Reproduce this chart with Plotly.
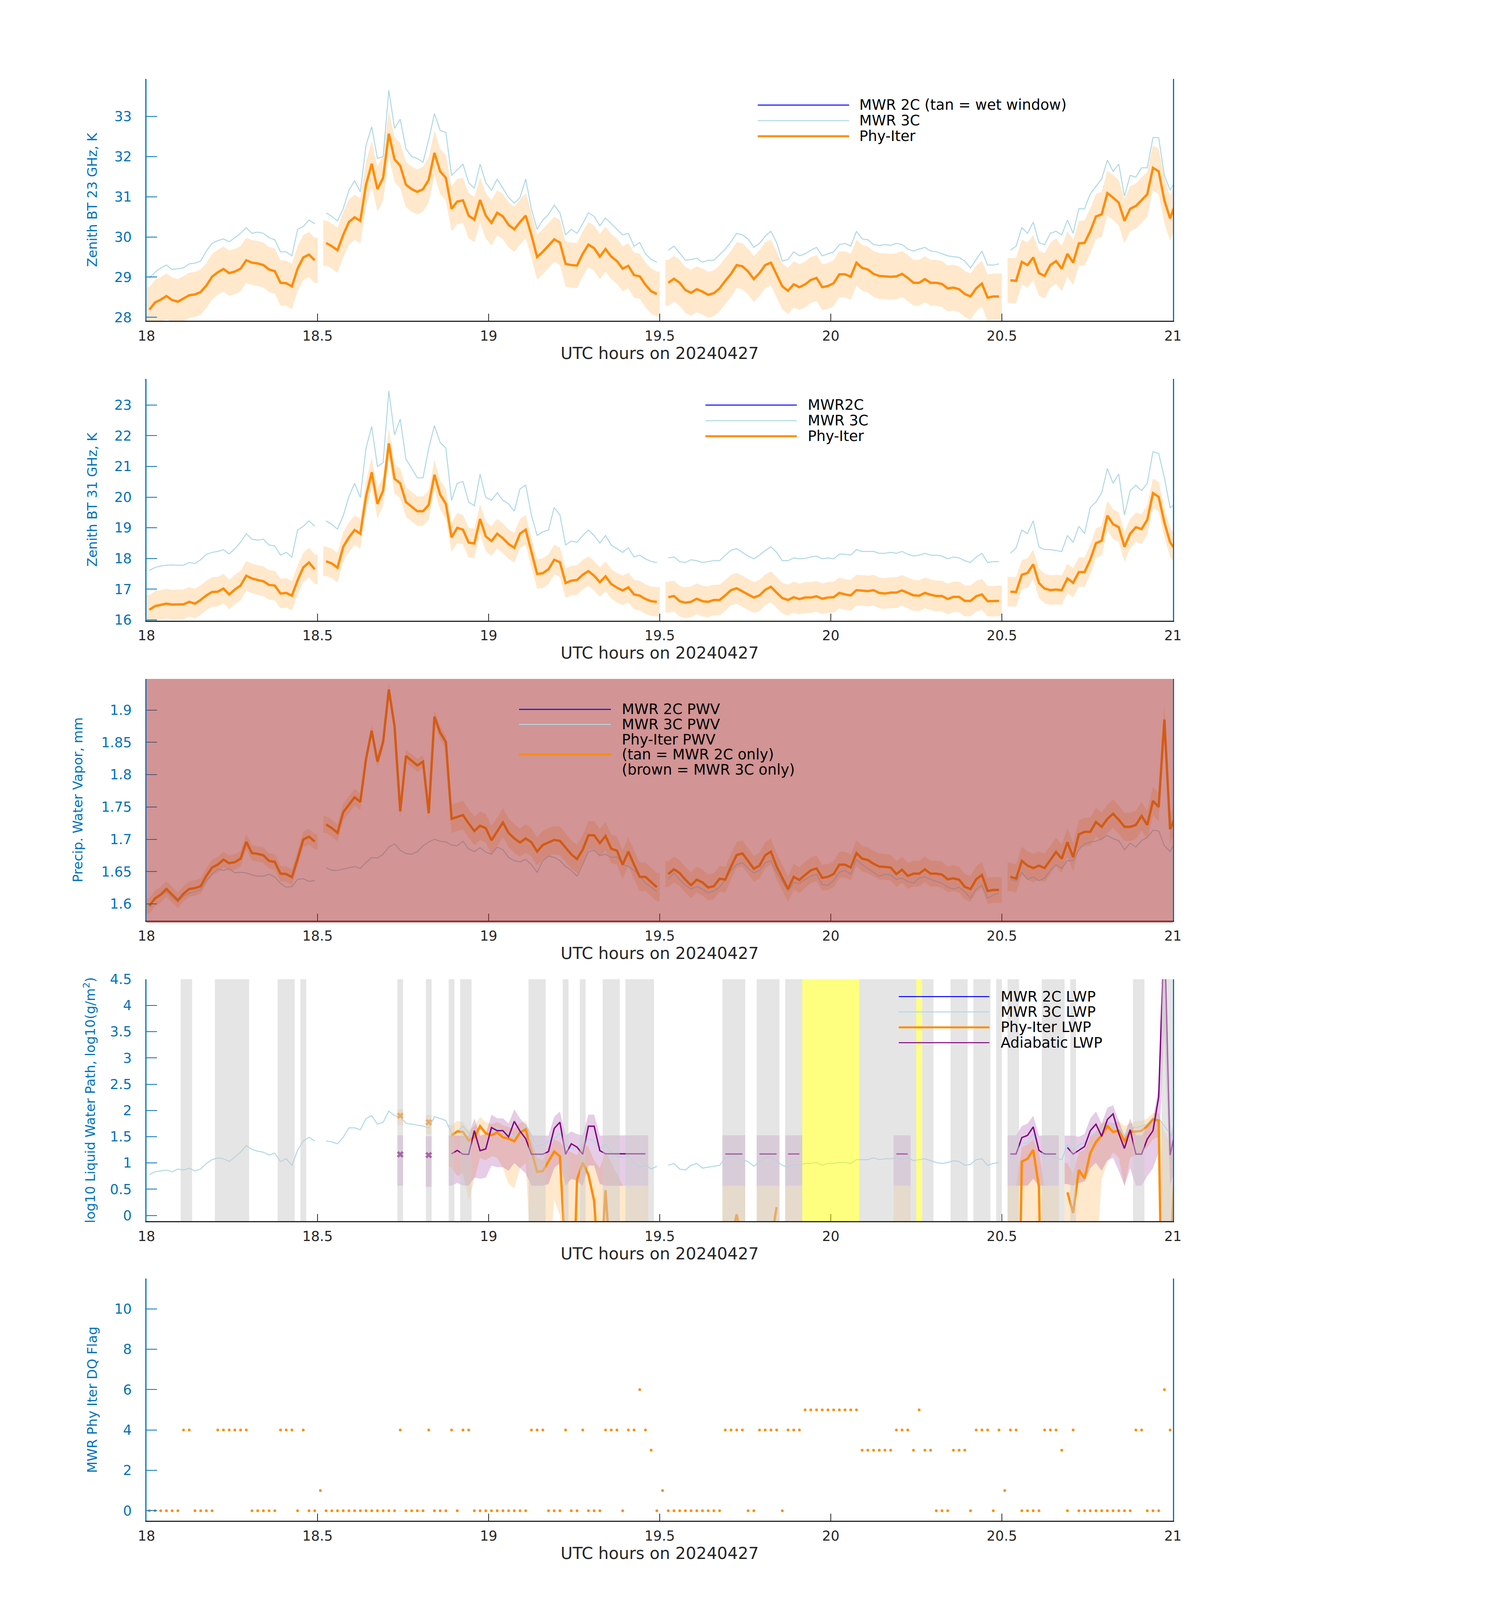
import plotly.graph_objects as go

FONT = "DejaVu Sans"
BLUE_AX = "#0072BD"
DARK = "#262626"
ORANGE = "#FF8C00"
LBLUE = "#ADD8E6"
PURPLE = "#800080"

# ---------------- time axis: one value per minute (minute-centred) ----------------
minute = list(range(181))
utc_hours = [18 + (m + 0.5) / 60 for m in minute]
N = None

# ---------------- Panel 1: zenith BT 23 GHz (K) ----------------
bt23_phy = [28.19, 28.37, 28.44, 28.53, 28.43, 28.39, 28.47, 28.55, 28.57, 28.63,
            28.79, 29.01, 29.12, 29.20, 29.10, 29.14, 29.21, 29.42, 29.36, 29.34,
            29.30, 29.19, 29.15, 28.86, 28.85, 28.77, 29.21, 29.49, 29.56, 29.42,
            N, 29.85, 29.77, 29.67, 30.05, 30.37, 30.49, 30.40, 31.30, 31.82,
            31.19, 31.47, 32.57, 31.93, 31.77, 31.30, 31.19, 31.12, 31.19, 31.42,
            32.09, 31.63, 31.47, 30.70, 30.88, 30.91, 30.53, 30.43, 30.92, 30.53,
            30.35, 30.60, 30.51, 30.30, 30.19, 30.37, 30.53, 30.05, 29.50, 29.63,
            29.79, 29.94, 29.86, 29.33, 29.30, 29.29, 29.58, 29.81, 29.72, 29.51,
            29.70, 29.51, 29.40, 29.21, 29.28, 29.05, 29.02, 28.81, 28.65, 28.58,
            N, 28.86, 28.96, 28.86, 28.68, 28.61, 28.70, 28.64, 28.56, 28.60,
            28.72, 28.91, 29.08, 29.30, 29.27, 29.14, 28.95, 29.10, 29.30, 29.36,
            29.07, 28.77, 28.66, 28.82, 28.75, 28.82, 28.93, 28.98, 28.75, 28.78,
            28.85, 29.07, 29.07, 29.01, 29.36, 29.23, 29.19, 29.08, 29.03, 29.02,
            29.01, 29.02, 29.08, 28.98, 28.86, 28.86, 28.95, 28.86, 28.86, 28.83,
            28.72, 28.74, 28.70, 28.58, 28.52, 28.72, 28.84, 28.49, 28.52, 28.52,
            N, 28.92, 28.91, 29.38, 29.30, 29.49, 29.10, 29.03, 29.30, 29.40,
            29.21, 29.58, 29.36, 29.84, 29.85, 30.14, 30.51, 30.56, 31.09, 30.98,
            30.85, 30.40, 30.70, 30.77, 30.92, 31.06, 31.72, 31.63, 30.91, 30.46,
            30.85]
bt23_unc = ([0.56] * 30 + [N] + [0.56] * 59 + [N] + [0.57] * 59 + [N] + [0.56] * 30)
bt23_3c = [28.98, 29.12, 29.23, 29.30, 29.19, 29.21, 29.23, 29.33, 29.35, 29.40,
           29.65, 29.84, 29.91, 29.95, 29.88, 29.98, 30.09, 30.23, 30.09, 30.12,
           30.09, 29.98, 29.93, 29.63, 29.63, 29.53, 30.19, 30.26, 30.42, 30.33,
           N, 30.60, 30.51, 30.40, 30.70, 31.16, 31.40, 31.12, 32.28, 32.74,
           31.95, 32.00, 33.65, 32.70, 32.93, 32.19, 32.00, 31.95, 31.86, 32.42,
           33.07, 32.65, 32.60, 31.53, 31.67, 31.81, 31.35, 31.21, 31.81, 31.35,
           31.16, 31.44, 31.21, 30.98, 30.84, 30.98, 31.44, 30.70, 30.19, 30.42,
           30.56, 30.79, 30.60, 30.05, 30.19, 30.09, 30.33, 30.60, 30.51, 30.28,
           30.47, 30.33, 30.19, 30.05, 30.09, 29.77, 29.86, 29.58, 29.44, 29.37,
           N, 29.67, 29.77, 29.60, 29.42, 29.44, 29.47, 29.37, 29.42, 29.42,
           29.56, 29.70, 29.88, 30.09, 30.05, 29.95, 29.74, 29.84, 30.02, 30.14,
           29.86, 29.40, 29.44, 29.63, 29.53, 29.58, 29.67, 29.74, 29.53, 29.58,
           29.63, 29.81, 29.84, 29.77, 30.14, 29.95, 29.93, 29.81, 29.79, 29.81,
           29.79, 29.84, 29.81, 29.70, 29.65, 29.70, 29.74, 29.65, 29.63, 29.58,
           29.53, 29.51, 29.49, 29.40, 29.23, 29.44, 29.65, 29.30, 29.30, 29.33,
           N, 29.67, 29.77, 30.23, 30.09, 30.37, 29.86, 29.81, 30.09, 30.14,
           30.05, 30.42, 30.09, 30.70, 30.70, 31.07, 31.26, 31.44, 31.91, 31.63,
           31.81, 31.02, 31.53, 31.49, 31.72, 31.72, 32.47, 32.47, 31.53, 31.16,
           31.40]

# ---------------- Panel 2: zenith BT 31 GHz (K) ----------------
bt31_phy = [16.33, 16.45, 16.49, 16.53, 16.50, 16.51, 16.51, 16.59, 16.53, 16.65,
            16.80, 16.91, 16.92, 17.02, 16.83, 16.99, 17.12, 17.44, 17.35, 17.30,
            17.26, 17.14, 17.12, 16.86, 16.88, 16.79, 17.29, 17.71, 17.87, 17.65,
            N, 17.91, 17.84, 17.70, 18.38, 18.69, 18.93, 18.81, 20.02, 20.81,
            19.78, 20.21, 21.75, 20.60, 20.45, 19.84, 19.69, 19.54, 19.54, 19.75,
            20.73, 20.08, 19.78, 18.69, 19.00, 18.94, 18.52, 18.49, 19.29, 18.72,
            18.57, 18.81, 18.66, 18.47, 18.35, 18.81, 18.94, 18.20, 17.50, 17.52,
            17.65, 17.96, 17.88, 17.20, 17.28, 17.30, 17.47, 17.59, 17.44, 17.23,
            17.42, 17.17, 17.05, 16.96, 17.06, 16.83, 16.79, 16.68, 16.61, 16.59,
            N, 16.74, 16.78, 16.61, 16.56, 16.59, 16.69, 16.61, 16.59, 16.65,
            16.65, 16.80, 16.97, 17.03, 16.94, 16.83, 16.73, 16.80, 16.98, 17.08,
            16.89, 16.71, 16.65, 16.74, 16.68, 16.73, 16.73, 16.77, 16.69, 16.73,
            16.74, 16.88, 16.83, 16.80, 16.97, 16.96, 16.94, 16.97, 16.88, 16.86,
            16.89, 16.89, 16.96, 16.88, 16.80, 16.79, 16.88, 16.82, 16.78, 16.78,
            16.68, 16.75, 16.75, 16.62, 16.62, 16.77, 16.83, 16.61, 16.61, 16.62,
            N, 16.92, 16.91, 17.47, 17.53, 17.81, 17.20, 17.02, 16.97, 16.99,
            16.97, 17.35, 17.21, 17.56, 17.56, 17.96, 18.50, 18.58, 19.40, 19.12,
            19.02, 18.38, 18.81, 19.02, 18.96, 19.26, 20.13, 20.01, 19.17, 18.53,
            18.26]
bt31_unc = ([0.48] * 30 + [N] + [0.48] * 59 + [N] + [0.50] * 59 + [N] + [0.48] * 30)
bt31_3c = [17.61, 17.71, 17.76, 17.78, 17.79, 17.78, 17.78, 17.87, 17.84, 17.96,
           18.14, 18.20, 18.23, 18.29, 18.15, 18.32, 18.53, 18.81, 18.63, 18.60,
           18.63, 18.44, 18.41, 18.11, 18.20, 18.05, 18.93, 19.05, 19.23, 19.05,
           N, 19.23, 19.11, 18.96, 19.39, 20.02, 20.45, 19.99, 21.60, 22.30,
           21.00, 21.12, 23.46, 22.03, 22.54, 21.24, 20.93, 20.63, 20.63, 21.60,
           22.33, 21.78, 21.60, 19.90, 20.45, 20.51, 19.84, 19.72, 20.75, 19.99,
           19.90, 20.14, 19.90, 19.78, 19.54, 20.27, 20.39, 19.42, 18.75, 18.87,
           18.93, 19.66, 19.42, 18.44, 18.57, 18.53, 18.75, 18.93, 18.75, 18.50,
           18.75, 18.44, 18.32, 18.20, 18.35, 18.05, 18.11, 17.99, 17.90, 17.87,
           N, 18.02, 18.05, 17.90, 17.87, 17.96, 17.93, 17.87, 17.90, 17.93,
           17.93, 18.11, 18.27, 18.32, 18.20, 18.08, 17.99, 18.11, 18.26, 18.38,
           18.20, 17.93, 17.93, 18.02, 17.99, 18.00, 18.05, 18.08, 17.99, 18.02,
           17.99, 18.14, 18.14, 18.11, 18.29, 18.23, 18.23, 18.23, 18.17, 18.17,
           18.20, 18.17, 18.23, 18.14, 18.08, 18.11, 18.17, 18.11, 18.11, 18.08,
           17.99, 18.05, 18.02, 17.93, 17.87, 18.05, 18.17, 17.87, 17.90, 17.90,
           N, 18.17, 18.35, 18.93, 18.81, 19.23, 18.38, 18.29, 18.29, 18.26,
           18.23, 18.75, 18.53, 19.05, 18.81, 19.66, 19.84, 20.14, 20.93, 20.45,
           20.75, 19.42, 20.21, 20.39, 20.21, 20.45, 21.48, 21.42, 20.63, 19.66,
           19.78]

# ---------------- Panel 3: precipitable water vapour (mm) ----------------
pwv_phy = [1.597, 1.6087, 1.6145, 1.6232, 1.6145, 1.6058, 1.6159, 1.6232, 1.6246, 1.6275,
           1.6434, 1.6564, 1.6608, 1.6686, 1.6631, 1.6646, 1.6701, 1.6961, 1.6787, 1.6776,
           1.6753, 1.6666, 1.6651, 1.6469, 1.6463, 1.6414, 1.6695, 1.6999, 1.7042, 1.6964,
           N, 1.723, 1.7173, 1.7100, 1.7419, 1.7535, 1.765, 1.7578, 1.8244, 1.8679,
           1.8201, 1.8505, 1.9316, 1.8751, 1.7433, 1.8288, 1.8215, 1.8143, 1.8201, 1.7404,
           1.8896, 1.865, 1.8505, 1.7317, 1.7346, 1.7375, 1.7245, 1.7129, 1.721, 1.7173,
           1.6984, 1.7115, 1.726, 1.71, 1.7013, 1.695, 1.7013, 1.6955, 1.6811, 1.6912,
           1.6955, 1.699, 1.6976, 1.6869, 1.6767, 1.6695, 1.684, 1.7063, 1.7063, 1.6941,
           1.7051, 1.6854, 1.6825, 1.6608, 1.6811, 1.6608, 1.642, 1.642, 1.6341, 1.626,
           N, 1.6463, 1.6536, 1.6478, 1.6376, 1.6289, 1.6376, 1.6333, 1.6255, 1.6275,
           1.6391, 1.6376, 1.6579, 1.6758, 1.6782, 1.6666, 1.6544, 1.6593, 1.6753, 1.6811,
           1.6579, 1.6405, 1.6231, 1.642, 1.637, 1.6449, 1.6521, 1.655, 1.6405, 1.642,
           1.6463, 1.6608, 1.6608, 1.6564, 1.6787, 1.6701, 1.668, 1.6622, 1.6579, 1.6573,
           1.6564, 1.6463, 1.653, 1.6434, 1.6469, 1.6469, 1.6536, 1.6469, 1.6469, 1.6454,
           1.6382, 1.6397, 1.6376, 1.6266, 1.6231, 1.6382, 1.6449, 1.6202, 1.6217, 1.6217,
           N, 1.642, 1.6391, 1.6666, 1.6593, 1.6556, 1.6593, 1.6556, 1.668, 1.6805,
           1.6701, 1.6955, 1.6724, 1.7077, 1.7115, 1.7115, 1.7268, 1.7193, 1.7317, 1.7396,
           1.7303, 1.7193, 1.7193, 1.7222, 1.7361, 1.7222, 1.7593, 1.75, 1.8852, 1.7158,
           1.7361]
pwv_unc = ([0.012] * 30 + [N] + [0.013] * 7 + [0.010] * 15 + [0.022] * 37 + [N]
           + [0.020] * 59 + [N] + [0.022] * 30)
pwv_3c = [1.597, 1.607, 1.613, 1.619, 1.610, 1.603, 1.612, 1.617, 1.619, 1.622,
          1.636, 1.646, 1.654, 1.652, 1.655, 1.648, 1.649, 1.648, 1.645, 1.643,
          1.643, 1.646, 1.642, 1.632, 1.626, 1.627, 1.638, 1.639, 1.635, 1.636,
          N, 1.656, 1.652, 1.652, 1.654, 1.656, 1.658, 1.655, 1.664, 1.672,
          1.671, 1.677, 1.688, 1.693, 1.683, 1.678, 1.677, 1.681, 1.690, 1.696,
          1.700, 1.697, 1.696, 1.691, 1.690, 1.697, 1.685, 1.681, 1.687, 1.680,
          1.677, 1.688, 1.684, 1.672, 1.667, 1.665, 1.669, 1.661, 1.649, 1.667,
          1.674, 1.672, 1.667, 1.658, 1.652, 1.643, 1.661, 1.681, 1.683, 1.675,
          1.677, 1.672, 1.673, 1.661, 1.658, 1.652, 1.643, 1.632, 1.626, 1.619,
          N, 1.638, 1.648, 1.638, 1.629, 1.623, 1.627, 1.623, 1.617, 1.620,
          1.626, 1.638, 1.652, 1.661, 1.664, 1.655, 1.648, 1.652, 1.664, 1.667,
          1.649, 1.635, 1.620, 1.633, 1.632, 1.638, 1.643, 1.646, 1.630, 1.629,
          1.636, 1.649, 1.652, 1.646, 1.669, 1.661, 1.655, 1.649, 1.643, 1.646,
          1.645, 1.638, 1.640, 1.635, 1.632, 1.640, 1.642, 1.638, 1.635, 1.632,
          1.626, 1.623, 1.626, 1.619, 1.609, 1.623, 1.629, 1.609, 1.614, 1.617,
          N, 1.638, 1.635, 1.649, 1.638, 1.642, 1.636, 1.640, 1.652, 1.661,
          1.655, 1.667, 1.667, 1.684, 1.693, 1.696, 1.697, 1.701, 1.706, 1.701,
          1.698, 1.684, 1.694, 1.688, 1.698, 1.703, 1.714, 1.713, 1.690, 1.681,
          1.698]

# ---------------- Panel 4: log10 liquid water path ----------------
lwp_3c = [0.777, 0.831, 0.848, 0.866, 0.831, 0.884, 0.866, 0.902, 0.848, 0.884,
          0.991, 1.062, 1.098, 1.080, 1.027, 1.116, 1.205, 1.329, 1.258, 1.223,
          1.205, 1.151, 1.187, 1.027, 1.080, 0.955, 1.240, 1.419, 1.490, 1.419,
          N, 1.419, 1.401, 1.365, 1.490, 1.668, 1.668, 1.632, 1.846, 1.900,
          1.739, 1.775, 1.988, 1.900, 1.882, 1.757, 1.739, 1.721, 1.703, 1.668,
          1.882, 1.846, 1.810, 1.561, 1.597, 1.703, 1.561, 1.525, 1.668, 1.561,
          1.525, 1.686, 1.597, 1.561, 1.490, 1.597, 1.739, 1.525, 1.312, 1.347,
          1.419, 1.454, 1.561, 1.347, 1.276, 1.294, 1.383, 1.454, 1.419, 1.276,
          1.347, 1.205, 1.134, 1.098, 1.134, 0.991, 0.920, 0.955, 0.884, 0.937,
          N, 0.955, 0.991, 0.884, 0.866, 0.955, 0.991, 0.902, 0.920, 0.937,
          0.955, 1.098, 1.134, 1.116, 1.062, 1.027, 0.937, 1.027, 1.098, 1.116,
          1.027, 0.955, 0.920, 0.973, 0.955, 0.991, 0.991, 1.009, 0.955, 0.991,
          0.991, 1.009, 1.009, 0.991, 1.062, 1.062, 1.062, 1.098, 1.062, 1.080,
          1.080, 1.098, 1.062, 1.098, 1.044, 1.062, 1.080, 1.044, 1.009, 0.991,
          1.009, 1.044, 1.027, 0.955, 0.973, 1.062, 1.080, 0.955, 0.991, 1.009,
          N, 1.098, 1.169, 1.383, 1.383, 1.561, 1.240, 1.098, 1.134, 1.098,
          1.062, 1.347, 1.240, 1.347, 1.383, 1.525, 1.561, 1.632, 1.810, 1.703,
          1.668, 1.525, 1.703, 1.668, 1.703, 1.739, 1.864, 1.846, 1.703, 1.561,
          1.490]

lwp_phy = ([N] * 44 + [1.899] + [N] * 4 + [1.775] + [N] * 3
           + [1.522, 1.601, 1.590, 1.429, 1.488, 1.700, 1.564,
              1.530, 1.581, 1.488, 1.463, 1.412, 1.581, 1.640, 1.24, 0.83, 0.845,
              1.022, 1.217, 1.124, -0.7, -2.8, 0.684, 1.006, 0.777, 0.278, -1.3,
              0.481, -1.15]
           + [N] * 20 + [-0.45, 0.02, -0.5] + [N] * 4 + [-0.52, 0.159]
           + [N] * 41 + [-5.0, 1.027, 1.080, 1.247, 0.546, -5.0] + [N] * 3
           + [0.439, 0.047, 0.866, 0.706, 1.187, 1.401, 1.525, 1.703, 1.589,
              1.614, 1.418, 1.596, 1.596, 1.614, 1.703, 1.828, 1.810, -5.0, -1.0,
              1.347])
lwp_phy_lo = ([N] * 44 + [1.72] + [N] * 4 + [1.55] + [N] * 3
              + [0.92, 0.75, 0.80, 0.28, 0.70, 1.10, 1.05,
                 1.13, 1.10, 0.90, 0.60, 0.52, 0.90, 1.00, -1, -1, -1,
                 -1, 0.30, 0.0, -1, -1, -1, -1, -1, -1, -1,
                 -1, -1, -1, -1, -1, -1, -1, -1]
              + [N] * 13 + [-1] * 4 + [N] * 2 + [-1] * 4 + [N] + [-1] * 3
              + [N] * 16 + [-1] * 3 + [N] * 17
              + [-1] * 9 + [N]
              + [-1, -1, -1, -1, -1, -1, 0.7, 1.0, 1.2, 1.1, 0.55, 1.1, 1.15, 1.2,
                 1.3, 1.45, 1.5, -1, -1, 1.0])
lwp_phy_hi = ([N] * 44 + [2.02] + [N] * 4 + [1.91] + [N] * 3
              + [1.72, 1.80, 1.78, 1.62, 1.70, 1.88, 1.78,
                 1.74, 1.78, 1.72, 1.68, 1.65, 1.76, 1.80, 1.45, 1.10, 1.05,
                 1.30, 1.45, 1.40, 1.25, 1.20, 1.15, 1.38, 1.30, 1.05, 0.90,
                 1.20, 1.00, 0.80, 0.565, 0.565, 0.565, 0.565, 0.565]
              + [N] * 13 + [0.565] * 4 + [N] * 2 + [0.565] * 4 + [N] + [0.565] * 3
              + [N] * 16 + [0.565] * 3 + [N] * 17
              + [0.565, 0.565, 1.30, 1.35, 1.45, 1.20, 0.565, 0.565, 0.565] + [N]
              + [1.0, 0.8, 1.2, 1.25, 1.5, 1.6, 1.75, 1.8, 1.75, 1.8, 1.7, 1.75, 1.8,
                 1.8, 1.85, 1.95, 1.95, 1.6, 1.4, 1.5])

lwp_adia = ([N] * 44 + [1.163] + [N] * 4 + [1.149] + [N] * 3
            + [1.175, 1.239, 1.166, 1.163, 1.615, 1.234, 1.268,
               1.674, 1.615, 1.615, 1.497, 1.793, 1.606, 1.463, 1.166, 1.166, 1.166,
               1.217, 1.657, 1.776, 1.166, 1.365, 1.302, 1.166, 1.700, 1.700, 1.234,
               1.175, 1.175, 1.175, 1.175, 1.175, 1.175, 1.175, 1.175]
            + [N] * 13 + [1.171] * 4 + [N] * 2 + [1.171] * 4 + [N] + [1.171] * 3
            + [N] * 16 + [1.171] * 3 + [N] * 17
            + [1.171, 1.171, 1.483, 1.525, 1.686, 1.240, 1.171, 1.171, 1.171] + [N]
            + [1.294, 1.169, 1.24, 1.312, 1.614, 1.739, 1.507, 1.828, 1.935,
               1.561, 1.276, 1.632, 1.169, 1.169, 1.454, 1.614, 2.256, 5.5, 1.151,
               1.650])
lwp_adia_lo = ([N] * 44 + [0.565] + [N] * 4 + [0.545] + [N] * 3
               + [0.565, 0.62, 0.57, 0.57, 0.72, 0.70, 0.72,
                  0.95, 0.92, 0.92, 0.85, 1.00, 0.90, 0.80, 0.565, 0.565, 0.565,
                  0.60, 0.90, 1.00, 0.565, 0.70, 0.66, 0.565, 0.95, 0.95, 0.60,
                  0.565, 0.565, 0.565, 0.565, 0.565, 0.565, 0.565, 0.565]
               + [N] * 13 + [0.565] * 4 + [N] * 2 + [0.565] * 4 + [N] + [0.565] * 3
               + [N] * 16 + [0.565] * 3 + [N] * 17
               + [0.565, 0.565, 0.565, 0.565, 0.70, 0.565, 0.565, 0.565, 0.565] + [N]
               + [0.60, 0.565, 0.62, 0.65, 0.90, 1.00, 0.85, 1.05, 1.10,
                  0.85, 0.565, 0.90, 0.565, 0.565, 0.75, 0.90, 1.20, 3.5, 0.565,
                  0.95])
lwp_adia_hi = ([N] * 44 + [1.525] + [N] * 4 + [1.51] + [N] * 3
               + [1.525, 1.52, 1.52, 1.52, 1.85, 1.52, 1.55,
                  1.92, 1.85, 1.85, 1.75, 2.02, 1.85, 1.72, 1.525, 1.525, 1.525,
                  1.52, 1.88, 1.98, 1.525, 1.60, 1.55, 1.525, 1.92, 1.92, 1.52,
                  1.525, 1.525, 1.525, 1.525, 1.525, 1.525, 1.525, 1.525]
               + [N] * 13 + [1.525] * 4 + [N] * 2 + [1.525] * 4 + [N] + [1.525] * 3
               + [N] * 16 + [1.525] * 3 + [N] * 17
               + [1.525, 1.525, 1.70, 1.75, 1.90, 1.52, 1.525, 1.525, 1.525] + [N]
               + [1.52, 1.52, 1.50, 1.55, 1.85, 1.98, 1.75, 2.05, 2.10,
                  1.80, 1.52, 1.85, 1.525, 1.525, 1.70, 1.85, 2.45, 6.0, 1.525,
                  1.90])

# ---------------- Panel 5: MWR Phy-Iter data-quality flag ----------------
dq_flag = ([0] * 6 + [4] * 2 + [0] * 4 + [4] * 6 + [0] * 5 + [4] * 3 + [0] + [4] + [0] * 2 + [1]
           + [0] * 13 + [4] + [0] * 4 + [4] + [0] * 3 + [4] + [0] + [4] * 2 + [0] * 10
           + [4] * 3 + [0] * 3 + [4] + [0] * 2 + [4] + [0] * 3 + [4] * 3 + [0]
           + [4, 4, 6, 4, 3, 0, 1] + [0] * 10 + [4] * 4 + [0] * 2 + [4] * 4 + [0] + [4] * 3
           + [5] * 10 + [3] * 6 + [4] * 3 + [3] + [5] + [3] * 2 + [0] * 3 + [3] * 3 + [0]
           + [4] * 3 + [0] + [4] + [1] + [4] * 2 + [0] * 4 + [4] * 3 + [3] + [0] + [4]
           + [0] * 10 + [4] * 2 + [0] * 3 + [6] + [4] + [0])
GRAY_FLAGS = (3, 4, 6)
YELLOW_FLAGS = (5,)

# ---------------- legend entries (text, colour, line width) per panel ----------------
legend_p1 = [("MWR 2C (tan = wet window)", "blue", 2.5), ("MWR 3C", LBLUE, 2.5),
             ("Phy-Iter", ORANGE, 5)]
legend_p2 = [("MWR2C", "blue", 2.5), ("MWR 3C", LBLUE, 2.5), ("Phy-Iter", ORANGE, 5)]
legend_p3 = [("MWR 2C PWV", "blue", 2.5), ("MWR 3C PWV", LBLUE, 2.5),
             ("Phy-Iter PWV", None, 0), ("(tan = MWR 2C only)", ORANGE, 5),
             ("(brown = MWR 3C only)", None, 0)]
legend_p4 = [("MWR 2C LWP", "blue", 2.5), ("MWR 3C LWP", LBLUE, 2.5),
             ("Phy-Iter LWP", ORANGE, 5), ("Adiabatic LWP", PURPLE, 2.5)]

# ---------------- helpers ----------------
HALF = 0.5 / 60


def segments(vals):
    segs, cur = [], []
    for i, v in enumerate(vals):
        if v is None:
            if cur:
                segs.append(cur)
            cur = []
        else:
            cur.append(i)
    if cur:
        segs.append(cur)
    return segs


def band_xy(lo, hi):
    xs, ys = [], []
    for seg in segments(hi):
        xa = [utc_hours[seg[0]] - HALF] + [utc_hours[i] for i in seg] + [utc_hours[seg[-1]] + HALF]
        up = [hi[seg[0]]] + [hi[i] for i in seg] + [hi[seg[-1]]]
        dn = [lo[seg[0]]] + [lo[i] for i in seg] + [lo[seg[-1]]]
        xs += xa + xa[::-1] + [None]
        ys += up + dn[::-1] + [None]
    return xs, ys


def pm(vals, unc, sign):
    return [None if (v is None or u is None) else v + sign * u for v, u in zip(vals, unc)]


def isolated(vals):
    out = []
    for i, v in enumerate(vals):
        if v is None:
            continue
        left = vals[i - 1] if i > 0 else None
        right = vals[i + 1] if i < len(vals) - 1 else None
        if left is None and right is None:
            out.append(i)
    return out


def runs(flags, wanted):
    res, start = [], None
    for i, f in enumerate(flags + [None]):
        if f in wanted:
            if start is None:
                start = i
        else:
            if start is not None:
                res.append((start, i - 1))
                start = None
    return res


fig = go.Figure()


def add_line(y, ax, color, width, name=None):
    fig.add_trace(go.Scatter(
        x=utc_hours, y=y, mode="lines", line=dict(color=color, width=width),
        xaxis="x" + ax, yaxis="y" + ax, name=name, showlegend=False,
        connectgaps=False, hoverinfo="skip"))


def add_band(lo, hi, ax, fillcolor):
    bx, by = band_xy(lo, hi)
    fig.add_trace(go.Scatter(
        x=bx, y=by, mode="lines", fill="toself", fillcolor=fillcolor,
        line=dict(width=0, color="rgba(0,0,0,0)"), xaxis="x" + ax, yaxis="y" + ax,
        showlegend=False, hoverinfo="skip"))


ORANGE_BAND = "rgba(255,140,0,0.2)"
PURPLE_BAND = "rgba(128,0,128,0.2)"

# Panel 1
add_band(pm(bt23_phy, bt23_unc, -1), pm(bt23_phy, bt23_unc, 1), "", ORANGE_BAND)
add_line(bt23_3c, "", LBLUE, 2.5, "MWR 3C")
add_line(bt23_phy, "", ORANGE, 6, "Phy-Iter")

# Panel 2
add_band(pm(bt31_phy, bt31_unc, -1), pm(bt31_phy, bt31_unc, 1), "2", ORANGE_BAND)
add_line(bt31_3c, "2", LBLUE, 2.5, "MWR 3C")
add_line(bt31_phy, "2", ORANGE, 6, "Phy-Iter")

# Panel 3
add_band(pm(pwv_phy, pwv_unc, -1), pm(pwv_phy, pwv_unc, 1), "3", ORANGE_BAND)
add_line(pwv_3c, "3", LBLUE, 2.5, "MWR 3C PWV")
add_line(pwv_phy, "3", ORANGE, 6, "Phy-Iter PWV")

# Panel 4
add_band(lwp_phy_lo, lwp_phy_hi, "4", ORANGE_BAND)
add_band(lwp_adia_lo, lwp_adia_hi, "4", PURPLE_BAND)
add_line(lwp_3c, "4", LBLUE, 2.5, "MWR 3C LWP")
add_line(lwp_phy, "4", ORANGE, 6, "Phy-Iter LWP")
add_line(lwp_adia, "4", PURPLE, 3.5, "Adiabatic LWP")
for series, col in ((lwp_phy, ORANGE), (lwp_adia, PURPLE)):
    idx = isolated(series)
    fig.add_trace(go.Scatter(
        x=[utc_hours[i] for i in idx], y=[series[i] for i in idx], mode="markers",
        marker=dict(symbol="x", size=15, color=col, line=dict(width=0)),
        xaxis="x4", yaxis="y4", showlegend=False, hoverinfo="skip"))

# Panel 5
fig.add_trace(go.Scatter(
    x=utc_hours, y=dq_flag, mode="markers", marker=dict(size=7, color=ORANGE),
    xaxis="x5", yaxis="y5", showlegend=False, hoverinfo="skip"))

# ---------------- geometry ----------------
# The browser viewport is 3825 x 4096, so the 3825 x 6000 design is drawn with
# vertical positions scaled to the viewport height (body margin = 8 px).
W, H = 3825, 4096
SY = H / 6000.0


def fx(xp):
    return (xp - 8) / W


def fy(yp):
    return 1 - (yp * SY - 8) / H


# ---------------- shapes ----------------
shapes = []
shapes.append(dict(type="rect", xref="x3", yref="y3 domain", x0=18, x1=21.012, y0=-0.008, y1=1.0,
                   fillcolor="rgba(165,42,42,0.5)", line=dict(width=0), layer="above"))
for a, b in runs(dq_flag, GRAY_FLAGS):
    shapes.append(dict(type="rect", xref="x4", yref="y4 domain",
                       x0=utc_hours[a] - HALF, x1=utc_hours[b] + HALF, y0=0, y1=1,
                       fillcolor="rgba(204,204,204,0.5)", line=dict(width=0), layer="above"))
for a, b in runs(dq_flag, YELLOW_FLAGS):
    shapes.append(dict(type="rect", xref="x4", yref="y4 domain",
                       x0=utc_hours[a] - HALF, x1=utc_hours[b] + HALF, y0=0, y1=1,
                       fillcolor="rgba(255,255,0,0.5)", line=dict(width=0), layer="above"))

# legends drawn as line samples + text (positions in design pixels)
annotations = []
legend_boxes = [  # (entries, line x0, line x1, text x, first row y, row step)
    (legend_p1, 1940, 2174, 2198, 394, 58.5),
    (legend_p2, 1806, 2040, 2066, 1519, 58.5),
    (legend_p3, 1329, 1564, 1590, 2660, 56.5),
    (legend_p4, 2301, 2533, 2560, 3737, 57.7),
]
for entries, lx0, lx1, tx, y0, step in legend_boxes:
    for k, (label, col, lw) in enumerate(entries):
        yy = fy(y0 + k * step)
        if col is not None:
            shapes.append(dict(type="line", xref="paper", yref="paper", x0=fx(lx0), x1=fx(lx1),
                               y0=yy, y1=yy, line=dict(color=col, width=lw), layer="above"))
        annotations.append(dict(text=label, xref="paper", yref="paper", x=fx(tx), y=yy,
                                xanchor="left", yanchor="middle", showarrow=False,
                                font=dict(size=37, color="black", family=FONT)))

# ---------------- layout ----------------
panels = [  # (suffix, top px, bottom px, y-range, tickvals, title, title standoff)
    ("", 296, 1203, [27.914, 33.93], [28, 29, 30, 31, 32, 33], "Zenith BT 23 GHz, K", 34),
    ("2", 1421, 2327, [15.98, 23.85], [16, 17, 18, 19, 20, 21, 22, 23], "Zenith BT 31 GHz, K", 34),
    ("3", 2546, 3453, [1.574, 1.948], [1.6, 1.65, 1.7, 1.75, 1.8, 1.85, 1.9],
     "Precip. Water Vapor, mm", 38),
    ("4", 3672, 4579, [-0.107, 4.5], [0, 0.5, 1, 1.5, 2, 2.5, 3, 3.5, 4, 4.5],
     "log10 Liquid Water Path, log10(g/m<sup>2</sup>)", 28),
    ("5", 4795, 5703, [-0.5, 11.5], [0, 2, 4, 6, 8, 10], "MWR Phy Iter DQ Flag", 34),
]
xticks = [18, 18.5, 19, 19.5, 20, 20.5, 21]
layout = dict(width=W, height=H, margin=dict(l=0, r=0, t=0, b=0, autoexpand=False),
              paper_bgcolor="white", plot_bgcolor="white", shapes=shapes,
              annotations=annotations, showlegend=False,
              font=dict(family=FONT, size=34, color=DARK), hovermode=False)
for suf, top, bot, yr, yt, title, ystand in panels:
    layout["xaxis" + suf] = dict(
        domain=[fx(375), fx(3003)], anchor="y" + suf, range=[18, 21], tickvals=xticks,
        ticktext=["18", "18.5", "19", "19.5", "20", "20.5", "21"],
        ticks="inside", ticklen=18, tickwidth=2, tickcolor=DARK, showline=True,
        linecolor=DARK, linewidth=2.5, showgrid=False, zeroline=False, automargin=False,
        tickfont=dict(size=35, color=DARK, family=FONT), ticklabelstandoff=6,
        title=dict(text="UTC hours on 20240427", font=dict(size=42, color=DARK, family=FONT),
                   standoff=8))
    layout["yaxis" + suf] = dict(
        domain=[fy(bot), fy(top)], anchor="x" + suf, range=yr, tickvals=yt, ticks="inside",
        ticklen=27, tickwidth=2, tickcolor=BLUE_AX, showline=True, linecolor=BLUE_AX,
        linewidth=2.5, mirror=True, showgrid=False, zeroline=False, automargin=False,
        tickfont=dict(size=35, color=BLUE_AX, family=FONT), ticklabelstandoff=28,
        title=dict(text=title, font=dict(size=34, color=BLUE_AX, family=FONT), standoff=ystand))
fig.update_layout(**layout)

fig.write_html("out.html")
